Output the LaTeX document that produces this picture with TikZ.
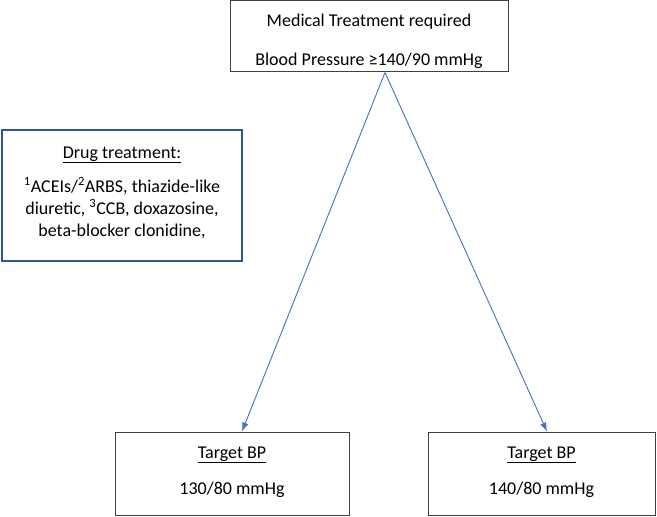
\documentclass[tikz,border=0pt]{standalone}
\usepackage{fontspec}
\setmainfont{Carlito}
\usetikzlibrary{arrows.meta,calc}
\definecolor{arrowblue}{HTML}{4472C4}
\definecolor{boxblue}{HTML}{2F5597}
\definecolor{boxgray}{HTML}{404040}
\begin{document}
\begin{tikzpicture}[x=1pt,y=-1pt,
  plainbox/.style={draw=boxgray,line width=1pt,rectangle,inner sep=0pt},
  bluebox/.style={draw=boxblue,line width=1.6pt,rectangle,inner sep=0pt},
  txt/.style={inner sep=0pt,font=\fontsize{18}{21.6}\selectfont,anchor=base},
  conn/.style={draw=arrowblue,line width=0.9pt,-{Latex[length=9pt,width=6.5pt]}}]
\useasboundingbox[fill=white] (0,0) rectangle (657,517);
% boxes
\node[plainbox,minimum width=278pt,minimum height=71pt] (top) at (369,35.5) {};
\node[bluebox,minimum width=240pt,minimum height=131pt] (drug) at (122,195.5) {};
\node[plainbox,minimum width=234pt,minimum height=83pt] (left) at (232,473.5) {};
\node[plainbox,minimum width=227pt,minimum height=83pt] (right) at (541.5,473.5) {};
% texts
\node[txt] (t1) at (369,26) {Medical Treatment required};
\node[txt] (t2) at (369,65) {Blood Pressure ≥140/90 mmHg};
\node[txt] (d0) at (122,158) {\underline{Drug treatment:}};
\node[txt] (d1) at (122,192) {\textsuperscript{1}ACEIs/\textsuperscript{2}ARBS, thiazide-like};
\node[txt] (d2) at (122,214) {diuretic, \textsuperscript{3}CCB, doxazosine,};
\node[txt] (d3) at (122,236) {beta-blocker clonidine,};
\node[txt] (l1) at (232,458) {\underline{Target BP}};
\node[txt] (l2) at (232,494) {130/80 mmHg};
\node[txt] (r1) at (541.5,458) {\underline{Target BP}};
\node[txt] (r2) at (541.5,494) {140/80 mmHg};
% connectors
\coordinate (apex) at ($(top.south)+(16,1)$);
\coordinate (ltip) at ($(left.north)+(10,0)$);
\coordinate (rtip) at ($(right.north)+(5.5,0)$);
\draw[conn] (apex) -- (ltip);
\draw[conn] (apex) -- (rtip);
\end{tikzpicture}
\end{document}
